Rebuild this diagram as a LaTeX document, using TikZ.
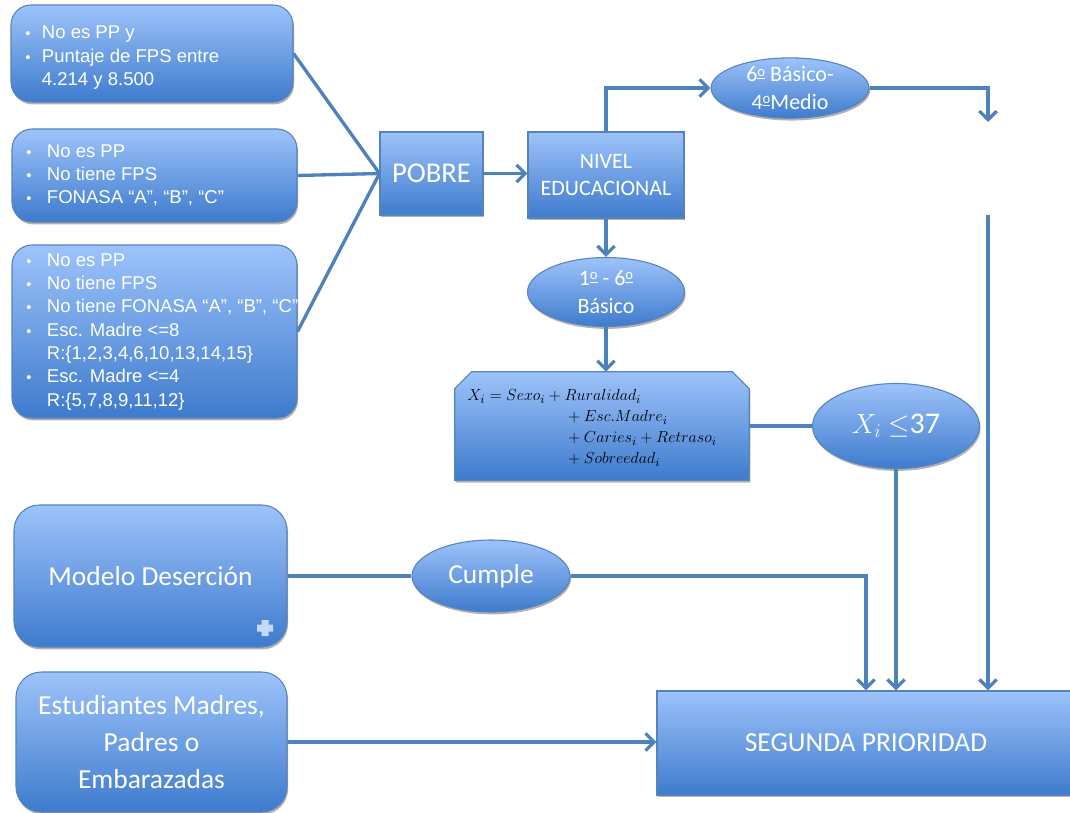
\documentclass[tikz,border=0pt]{standalone}
\usepackage{fontspec}
\setmainfont{Carlito}
\newfontfamily\arialf{Liberation Sans}
\usetikzlibrary{arrows.meta,shapes.geometric,shadows,calc}
\definecolor{topc}{RGB}{157,195,250}
\definecolor{botc}{RGB}{62,123,205}
\definecolor{edgec}{RGB}{86,130,190}
\definecolor{linec}{RGB}{79,129,189}
\tikzset{
  fillstyle/.style={draw=edgec, line width=0.8pt, top color=topc, bottom color=botc,
     drop shadow={shadow xshift=0.8pt, shadow yshift=-1.8pt, opacity=0.3, fill=black}},
  boxbase/.style={fillstyle, text=white, inner sep=0pt, align=center},
  rbox/.style={boxbase, rectangle, rounded corners=15pt},
  rbigbox/.style={boxbase, rectangle, rounded corners=19pt},
  sbox/.style={boxbase, rectangle},
  ebox/.style={boxbase, ellipse},
  conn/.style={draw=linec, line width=2.5pt},
  arr/.style={conn, -{Straight Barb[length=6.5pt,width=13pt]}},
  bultext/.style={text=white, inner sep=0pt, anchor=west, align=left,
     font=\arialf\fontsize{13.9}{17.5}\selectfont},
  bigtxt/.style={font=\fontsize{20.6}{28}\selectfont},
  midtxt/.style={font=\fontsize{16.5}{20.5}\selectfont},
}
\newcommand{\bl}{{\fontsize{11}{11}\selectfont\textbullet}}
\newcommand{\ordo}{\raisebox{0.55ex}{\fontsize{11}{11}\selectfont\underline{o}}}
\begin{document}
\begin{tikzpicture}[x=0.75pt,y=-0.75pt]
\useasboundingbox (0,0) rectangle (1070,813);
\fill[white] (0,0) rectangle (1070,813);

% left criteria boxes
\node[rbox, minimum width=211.5pt, minimum height=72.75pt] (a1) at (152,53.5) {};
\node[bultext] (a1t) at (25,57.5) {\begin{tabular}{@{}p{12.5pt}@{}l@{}}
\bl & No es PP y\\ \bl & Puntaje de FPS entre\\ & 4.214 y 8.500\end{tabular}};
\node[rbox, minimum width=213.75pt, minimum height=69.75pt] (a2) at (154.5,175.5) {};
\node[bultext] (a2t) at (26,176) {\begin{tabular}{@{}p{15.5pt}@{}l@{}}
\bl & No es PP\\ \bl & No tiene FPS\\ \bl & FONASA “A”, “B”, “C”\end{tabular}};
\node[rbox, minimum width=213.75pt, minimum height=129.75pt] (a3) at (154.5,331.5) {};
\node[bultext] (a3t) at (26,331.5) {\begin{tabular}{@{}p{15.5pt}@{}l@{}}
\bl & No es PP\\ \bl & No tiene FPS\\ \bl & No tiene FONASA “A”, “B”, “C”\\
\bl & Esc. Madre <=8\\ & R:\{1,2,3,4,6,10,13,14,15\}\\
\bl & Esc. Madre <=4\\ & R:\{5,7,8,9,11,12\}\end{tabular}};

% main chain
\node[sbox, font=\fontsize{21.5}{28}\selectfont, minimum width=77.25pt, minimum height=62.25pt] (pobre) at (431.5,173.5) {POBRE};
\node[sbox, midtxt, minimum width=117pt, minimum height=64.5pt] (nivel) at (606,175) {NIVEL\\EDUCACIONAL};
\node[ebox, midtxt, minimum width=118.5pt, minimum height=43.5pt] (e6) at (790,88) {6\ordo{} Básico-\\4\ordo Medio};
\node[ebox, midtxt, minimum width=117.75pt, minimum height=51.75pt] (e1) at (606,292) {1\ordo{} - 6\ordo\\Básico};
\node[inner sep=0pt, minimum width=220.5pt, minimum height=81pt] (form) at (602,426) {};
\path[fillstyle] ($(form.north west)+(17,0)$) -- ($(form.north east)+(-17,0)$)
   -- ($(form.north east)+(0,17)$) -- (form.south east) -- (form.south west)
   -- ($(form.north west)+(0,17)$) -- cycle;
\node[inner sep=0pt, anchor=west, text=black, font=\fontsize{12.5}{15.75}\selectfont] (formt) at (467,428)
 {$\begin{array}{@{}l@{}l@{}}
 X_i = Sexo_i+{} & Ruralidad_i\\
 & {}+Esc.Madre_i\\
 & {}+Caries_i+Retraso_i\\
 & {}+Sobreedad_i
 \end{array}$};
\node[ebox, font=\fontsize{22.5}{26}\selectfont, minimum width=125.25pt, minimum height=63.75pt] (ex) at (896,426) {$X_i$ $\leq$37};

% bottom
\node[rbigbox, bigtxt, minimum width=204.75pt, minimum height=106.5pt] (mod) at (150.5,576) {Modelo Deserción};
\node[ebox, bigtxt, minimum width=118.5pt, minimum height=54pt] (cum) at (491,576) {Cumple};
\node[rbigbox, bigtxt, minimum width=203.25pt, minimum height=105pt] (est) at (151.5,742) {Estudiantes Madres,\\Padres o\\Embarazadas};
\node[sbox, bigtxt, minimum width=313.5pt, minimum height=78pt] (seg) at (866,743) {SEGUNDA PRIORIDAD};

% plus sign on Modelo
\fill[topc!60!white]
  (261.5,620) rectangle (268.5,636) (257,624.5) rectangle (273,631.5);

% connectors
\coordinate (t1) at (988,122);
\coordinate (t2) at (988,215);
\draw[conn] (a1.east) -- (pobre.west);
\draw[conn] (a2.east) -- (pobre.west);
\draw[conn] (a3.east) -- (pobre.west);
\draw[arr] (pobre.east) -- (pobre.east -| nivel.west);
\draw[arr] (nivel.north) |- (e6.west);
\draw[arr] (e6.east) -| (t1);
\draw[arr] (t2) -- (t2 |- seg.north);
\draw[arr] (nivel.south) -- (e1.north);
\draw[arr] (e1.south) -- (e1.south |- form.north);
\draw[conn] (form.east) -- (ex.west);
\draw[arr] (ex.south) -- (ex.south |- seg.north);
\draw[conn] (mod.east) -- (cum.west);
\draw[arr] (cum.east) -| (seg.north);
\draw[arr] (est.east) -- (est.east -| seg.west);
\end{tikzpicture}
\end{document}
